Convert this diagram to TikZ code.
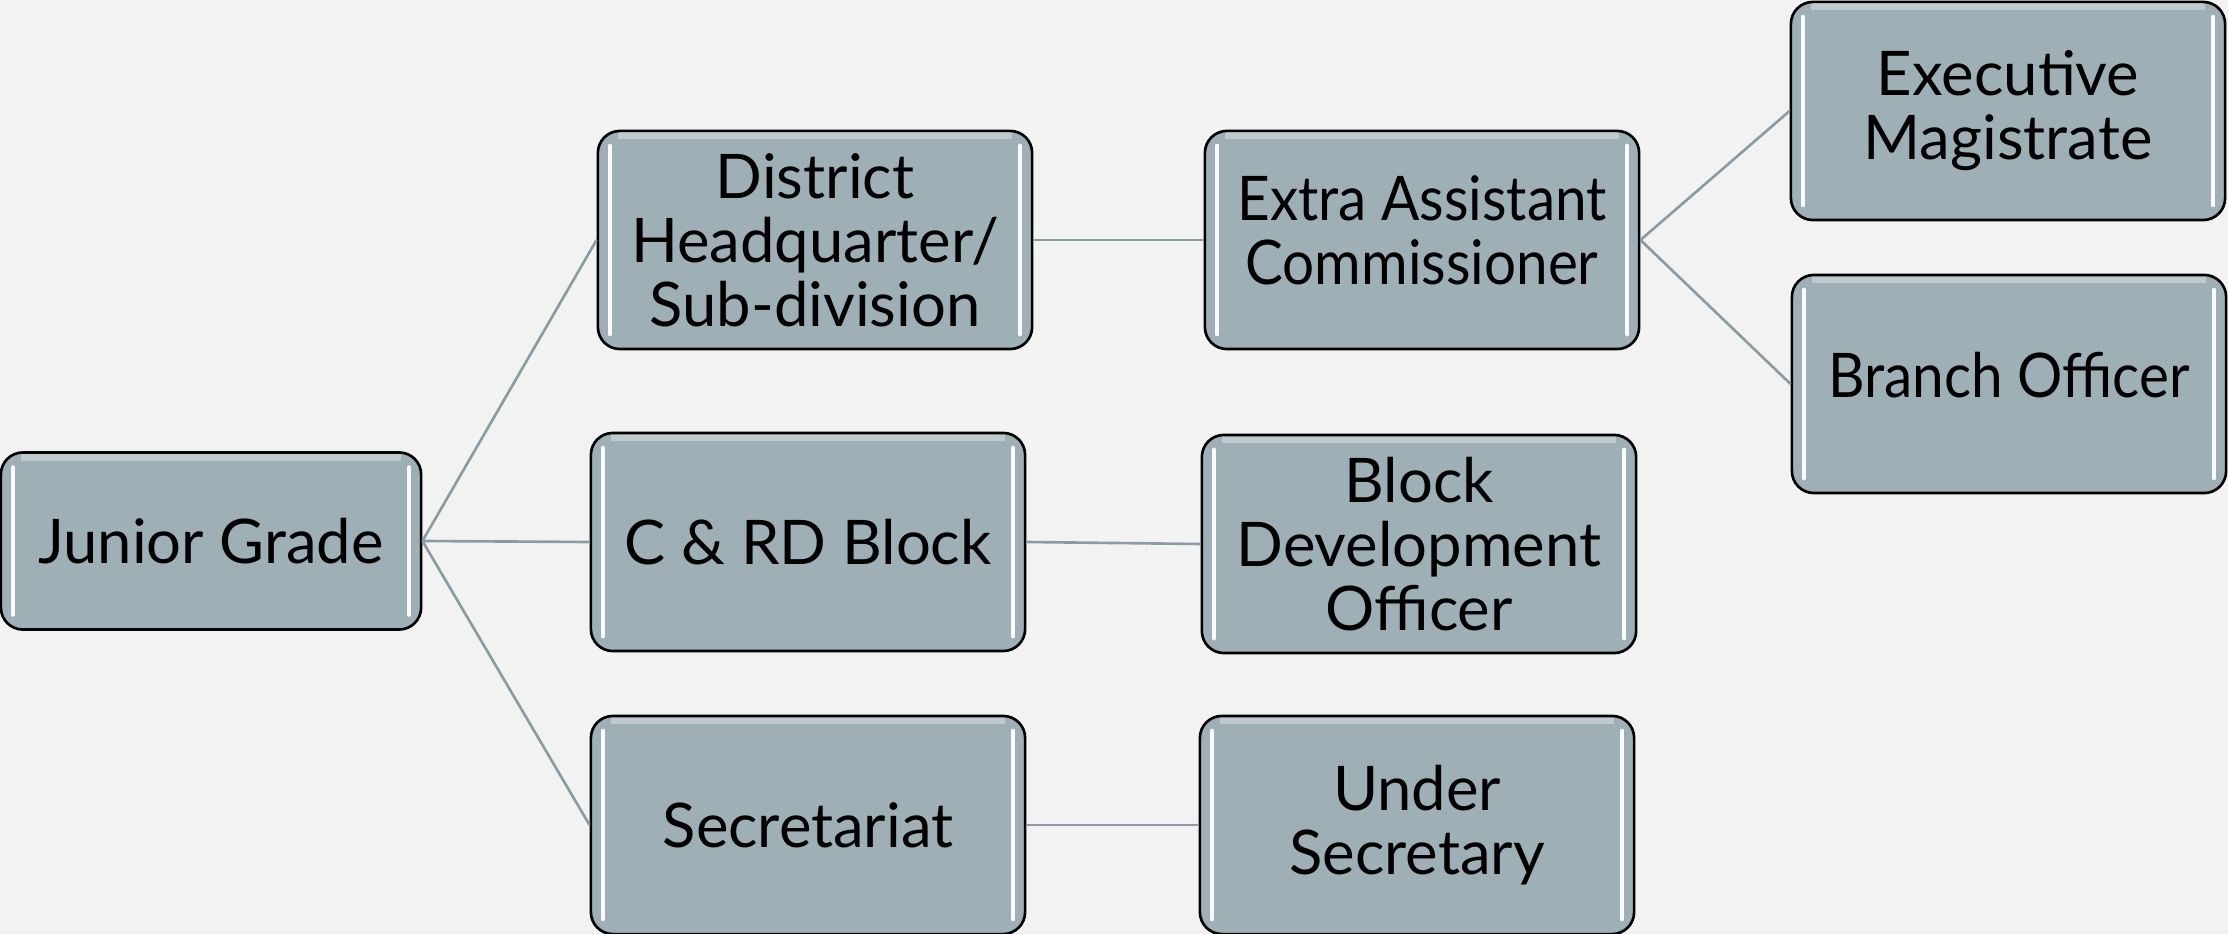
\documentclass[tikz,border=0pt]{standalone}
\usepackage{fontspec}
\setmainfont{Lato}
\definecolor{bg}{HTML}{F2F2F2}
\definecolor{boxfill}{HTML}{9EAFB5}
\definecolor{conn}{HTML}{8A9BA1}
\newcommand{\narrowtext}[1]{\scalebox{0.92}[1]{\begin{tabular}{@{}c@{}}#1\end{tabular}}}
\begin{document}
\begin{tikzpicture}[x=0.01cm,y=-0.01cm,
  gbox/.style={draw=black, line width=0.75pt, fill=boxfill, rounded corners=0.22cm,
    minimum width=4.34cm, minimum height=2.18cm, inner sep=0pt, align=center,
    font=\fontsize{17.5}{18.2}\selectfont,
    path picture={
      \draw[white, line width=1.3pt, line cap=round, opacity=0.95]
        ([xshift=0.12cm,yshift=-0.15cm]path picture bounding box.north west) --
        ([xshift=0.12cm,yshift=0.15cm]path picture bounding box.south west);
      \draw[white, line width=1.3pt, line cap=round, opacity=0.95]
        ([xshift=-0.12cm,yshift=-0.15cm]path picture bounding box.north east) --
        ([xshift=-0.12cm,yshift=0.15cm]path picture bounding box.south east);
      \draw[white, line width=2pt, opacity=0.35]
        ([xshift=0.2cm,yshift=-0.05cm]path picture bounding box.north west) --
        ([xshift=-0.2cm,yshift=-0.05cm]path picture bounding box.north east);
    }},
  link/.style={draw=conn, line width=0.75pt}]
\fill[bg] (0,0) rectangle (2228,934);
\useasboundingbox (0,0) rectangle (2228,934);
\node[gbox, minimum width=4.20cm, minimum height=1.77cm] (jg) at (211,541) {Junior Grade};
\node[gbox] (dh) at (815,240) {District\\Headquarter/\\Sub-division};
\node[gbox] (cr) at (808,542) {C \& RD Block};
\node[gbox] (se) at (808,825) {Secretariat};
\node[gbox] (ea) at (1422,240) {\narrowtext{Extra Assistant\\Commissioner}};
\node[gbox] (bd) at (1419,544) {Block\\Development\\Officer};
\node[gbox] (us) at (1417,825) {Under\\Secretary};
\node[gbox] (em) at (2008,111) {Executive\\Magistrate};
\node[gbox] (bo) at (2009,384) {\narrowtext{Branch Officer}};
\draw[link] (jg.east) -- (dh.west);
\draw[link] (jg.east) -- (cr.west);
\draw[link] (jg.east) -- (se.west);
\draw[link] (dh.east) -- (ea.west);
\draw[link] (cr.east) -- (bd.west);
\draw[link] (se.east) -- (us.west);
\draw[link] (ea.east) -- (em.west);
\draw[link] (ea.east) -- (bo.west);
\end{tikzpicture}
\end{document}
